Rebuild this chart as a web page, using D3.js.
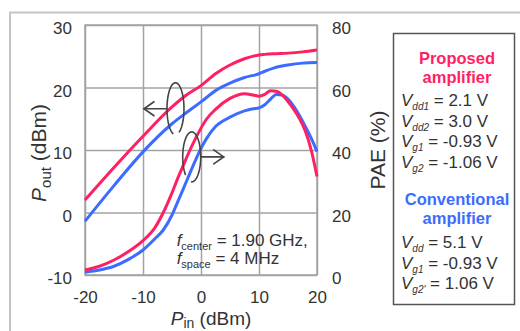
<!DOCTYPE html>
<html>
<head>
<meta charset="utf-8">
<script src="https://cdn.jsdelivr.net/npm/d3@7"></script>
<style>
  body { margin: 0; background: #fff; }
  svg { display: block; font-family: "Liberation Sans", Arial, sans-serif; }
</style>
</head>
<body>
<svg id="chart" width="520" height="331"></svg>
<script>
// axis ticks
const pinTicks = [-20, -10, 0, 10, 20];
const poutTicks = [-10, 0, 10, 20, 30];
const paeTicks = [0, 20, 40, 60, 80];

// Pout vs Pin (dBm)
const poutPin = [-20, -15, -10, -5, -2.5, 0, 2.5, 5, 7.5, 10, 11, 12.5, 15, 17.5, 20];
const poutProposed = [2.0, 7.2, 12.2, 16.9, 18.8, 20.3, 22.2, 23.6, 24.6, 25.2, 25.3, 25.4, 25.5, 25.7, 26.0];
const poutConventional = [-1.4, 4.3, 9.7, 14.2, 16.0, 17.7, 19.5, 20.7, 21.6, 22.2, 22.6, 23.1, 23.6, 23.9, 24.0];

// PAE vs Pin (%)
const paePin = [-20, -17.5, -15, -12.5, -10, -8, -6.5, -5, -4, -3, -2, -1, 0, 1, 2.5, 5, 7.5, 9, 10, 11, 12, 13, 14, 15, 16, 17, 18, 19, 20];
const paeProposed = [1.6, 2.8, 4.8, 7.5, 11.0, 15.0, 20.0, 26.3, 31.0, 35.3, 39.6, 43.5, 47.0, 50.0, 53.0, 56.5, 58.0, 57.6, 57.2, 57.8, 59.0, 58.8, 57.6, 55.5, 53.0, 50.0, 46.0, 40.0, 31.5];
const paeConventional = [0.9, 1.6, 2.8, 5.0, 8.0, 11.5, 14.4, 19.2, 23.5, 27.8, 32.2, 36.5, 40.5, 43.8, 47.5, 50.5, 52.5, 53.2, 53.5, 54.5, 56.3, 57.8, 57.6, 56.3, 54.0, 51.0, 47.5, 43.8, 39.5];

// legend texts
const proposedTitle = ['Proposed', 'amplifier'];
const proposedBias = [['dd1', '= 2.1 V'], ['dd2', '= 3.0 V'], ['g1', '= -0.93 V'], ['g2', '= -1.06 V']];
const conventionalTitle = ['Conventional', 'amplifier'];
const conventionalBias = [['dd', '= 5.1 V'], ['g1', '= -0.93 V'], ["g2'", '= 1.06 V']];

const red = '#ff1f63';
const blue = '#3c6cff';
const gridColor = '#a3a3a3';
const textColor = '#333';

const svg = d3.select('#chart');
const plot = { left: 85, right: 317, top: 25, bottom: 275 };

const x = d3.scaleLinear().domain([-20, 20]).range([plot.left, plot.right]);
const yL = d3.scaleLinear().domain([-10, 30]).range([plot.bottom, plot.top]);
const yR = d3.scaleLinear().domain([0, 80]).range([plot.bottom, plot.top]);

// outer frame of the figure
svg.append('path')
  .attr('d', 'M10,331 V12.5 H520')
  .attr('fill', 'none')
  .attr('stroke', '#c4c4c4')
  .attr('stroke-width', 2);

// grid + tick labels (plain hyphen for negatives, like the original)
const fmt = (d) => String(d);
const xAxis = svg.append('g')
  .attr('transform', 'translate(0,' + plot.bottom + ')')
  .call(d3.axisBottom(x).tickValues(pinTicks).tickFormat(fmt).tickSize(-(plot.bottom - plot.top)).tickPadding(16));

const leftAxis = svg.append('g')
  .attr('transform', 'translate(' + plot.left + ',0)')
  .call(d3.axisLeft(yL).tickValues(poutTicks).tickFormat(fmt).tickSize(-(plot.right - plot.left)).tickPadding(13));

const rightAxis = svg.append('g')
  .attr('transform', 'translate(' + plot.right + ',0)')
  .call(d3.axisRight(yR).tickValues(paeTicks).tickFormat(fmt).tickSize(0).tickPadding(15));

[xAxis, leftAxis, rightAxis].forEach((g) => {
  g.select('.domain').remove();
  g.selectAll('line').attr('stroke', gridColor).attr('stroke-width', 1.5);
  g.selectAll('text')
    .attr('fill', textColor)
    .style('font-size', '17px');
});
leftAxis.selectAll('text').attr('dy', '0.5em');
rightAxis.selectAll('text').attr('dy', '0.5em');

svg.append('rect')
  .attr('x', plot.left)
  .attr('y', plot.top)
  .attr('width', plot.right - plot.left)
  .attr('height', plot.bottom - plot.top)
  .attr('fill', 'none')
  .attr('stroke', gridColor)
  .attr('stroke-width', 1.5);

// curves
const poutLine = d3.line()
  .x((d) => x(d[0]))
  .y((d) => yL(d[1]))
  .curve(d3.curveMonotoneX);
const paeLine = d3.line()
  .x((d) => x(d[0]))
  .y((d) => yR(d[1]))
  .curve(d3.curveMonotoneX);

const curves = [
  { pin: poutPin, vals: poutConventional, color: blue, line: poutLine },
  { pin: poutPin, vals: poutProposed, color: red, line: poutLine },
  { pin: paePin, vals: paeConventional, color: blue, line: paeLine },
  { pin: paePin, vals: paeProposed, color: red, line: paeLine },
];
svg.selectAll('path.curve')
  .data(curves)
  .join('path')
  .attr('class', 'curve')
  .attr('fill', 'none')
  .attr('stroke', (d) => d.color)
  .attr('stroke-width', 3)
  .attr('stroke-linejoin', 'round')
  .attr('d', (d) => d.line(d.pin.map((p, i) => [p, d.vals[i]])));

// loops with arrows (Pout -> left axis, PAE -> right axis)
function loopArrow(cx, cy, rx, ry, dir) {
  const g = svg.append('g')
    .attr('fill', 'none')
    .attr('stroke', '#444')
    .attr('stroke-width', 1.6)
    .attr('stroke-linecap', 'round');
  const p = d3.path();
  const a0 = dir < 0 ? Math.PI * 0.6 : Math.PI * 0.75;
  const a1 = a0 + Math.PI * 1.75;
  for (let t = 0; t <= 60; t++) {
    const a = a0 + (a1 - a0) * t / 60;
    const px = cx + rx * Math.cos(a);
    const py = cy + ry * Math.sin(a);
    if (t === 0) p.moveTo(px, py); else p.lineTo(px, py);
  }
  g.append('path').attr('d', p.toString());
  const sx = cx + dir * rx;
  const ex = sx + dir * 23;
  g.append('path').attr('d', 'M' + sx + ',' + cy + 'H' + ex);
  g.append('path').attr('d', 'M' + (ex - dir * 10) + ',' + (cy - 7) + 'L' + ex + ',' + cy + 'L' + (ex - dir * 10) + ',' + (cy + 7));
}
loopArrow(x(-4.4), yL(16.6), 8.5, 26, -1);
loopArrow(x(-1.6), yR(37.8), 9, 25, 1);

// frequency note
const note = svg.append('g').attr('fill', textColor).style('font-size', '17px');
[['center', '= 1.90 GHz,', -5.3], ['space', '= 4 MHz', -8.3]].forEach((r) => {
  const t = note.append('text').attr('x', x(-4.2)).attr('y', yL(r[2]));
  t.append('tspan').style('font-style', 'italic').text('f');
  t.append('tspan').attr('dy', 4).style('font-size', '11px').text(r[0]);
  t.append('tspan').attr('dy', -4).text(' ' + r[1]);
});

// axis titles
const yTitle = svg.append('text')
  .attr('transform', 'translate(46,153) rotate(-90)')
  .attr('text-anchor', 'middle')
  .attr('fill', textColor)
  .style('font-size', '21px');
yTitle.append('tspan').style('font-style', 'italic').text('P');
yTitle.append('tspan').attr('dy', 5).style('font-size', '15px').text('out');
yTitle.append('tspan').attr('dy', -5).text(' (dBm)');

svg.append('text')
  .attr('transform', 'translate(385,150) rotate(-90)')
  .attr('text-anchor', 'middle')
  .attr('fill', textColor)
  .style('font-size', '21px')
  .text('PAE (%)');

const xTitle = svg.append('text')
  .attr('x', 211)
  .attr('y', 325)
  .attr('text-anchor', 'middle')
  .attr('fill', textColor)
  .style('font-size', '19px');
xTitle.append('tspan').style('font-style', 'italic').text('P');
xTitle.append('tspan').attr('dy', 3).style('font-size', '14px').text('in');
xTitle.append('tspan').attr('dy', -3).text(' (dBm)');

// legend box
const legend = svg.append('g');
legend.append('rect')
  .attr('x', 393.5)
  .attr('y', 33.5)
  .attr('width', 121)
  .attr('height', 271)
  .attr('fill', '#fff')
  .attr('stroke', '#555')
  .attr('stroke-width', 1.5);

function titleBlock(lines, color, y0) {
  lines.forEach((s, i) => {
    legend.append('text')
      .attr('x', 457)
      .attr('y', y0 + i * 18.5)
      .attr('text-anchor', 'middle')
      .attr('fill', color)
      .style('font-size', '16.5px')
      .style('font-weight', 'bold')
      .text(s);
  });
}
function biasBlock(rows, y0) {
  rows.forEach((r, i) => {
    const t = legend.append('text')
      .attr('x', 401)
      .attr('y', y0 + i * 20.5)
      .attr('fill', textColor)
      .style('font-size', '17px');
    t.append('tspan').style('font-style', 'italic').text('V');
    t.append('tspan').attr('dy', 4).style('font-size', '10px').style('font-style', 'italic').text(r[0]);
    t.append('tspan').attr('dy', -4).text(' ' + r[1]);
  });
}
titleBlock(proposedTitle, red, 64);
biasBlock(proposedBias, 106);
titleBlock(conventionalTitle, blue, 205);
biasBlock(conventionalBias, 248);
</script>
</body>
</html>
